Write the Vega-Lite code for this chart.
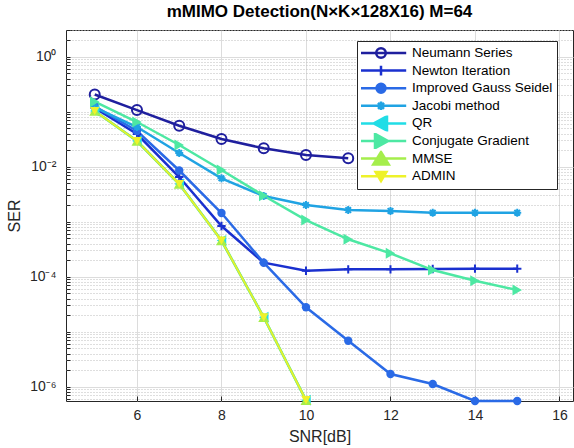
{
  "$schema": "https://vega.github.io/schema/vega-lite/v6.json",
  "width": 507,
  "height": 371,
  "autosize": {"type": "none"},
  "padding": {"left": 66, "top": 30, "right": 1, "bottom": 47},
  "background": "white",
  "title": {"text": "mMIMO Detection(N×K×128X16) M=64", "font": "Liberation Sans", "fontSize": 17, "fontWeight": "bold", "color": "#000000", "anchor": "middle", "offset": 2},
  "config": {
    "view": {"stroke": "#262626", "strokeWidth": 1},
    "axis": {"domain": false},
    "legend": {
      "orient": "none", "legendX": 291, "legendY": 11,
      "fillColor": "white", "strokeColor": "#262626", "padding": 4,
      "labelFont": "Liberation Sans", "labelFontSize": 13.5, "labelColor": "#000000", "labelLimit": 0,
      "symbolSize": 144, "symbolStrokeWidth": 2.5, "symbolOpacity": 1,
      "symbolOffset": 12.5, "labelOffset": 23.5,
      "clipHeight": 16, "rowPadding": 1.6, "gridAlign": "all"
    }
  },
  "data": {"values": [
    {"snr": 5, "ser": 0.2055, "series": "Neumann Series"},
    {"snr": 6, "ser": 0.107, "series": "Neumann Series"},
    {"snr": 7, "ser": 0.0556, "series": "Neumann Series"},
    {"snr": 8, "ser": 0.0319, "series": "Neumann Series"},
    {"snr": 9, "ser": 0.0216, "series": "Neumann Series"},
    {"snr": 10, "ser": 0.0163, "series": "Neumann Series"},
    {"snr": 11, "ser": 0.0142, "series": "Neumann Series"},
    {"snr": 5, "ser": 0.117, "series": "Newton Iteration"},
    {"snr": 6, "ser": 0.0393, "series": "Newton Iteration"},
    {"snr": 7, "ser": 0.0065, "series": "Newton Iteration"},
    {"snr": 8, "ser": 0.000835, "series": "Newton Iteration"},
    {"snr": 9, "ser": 0.00018, "series": "Newton Iteration"},
    {"snr": 10, "ser": 0.0001285, "series": "Newton Iteration"},
    {"snr": 11, "ser": 0.000136, "series": "Newton Iteration"},
    {"snr": 12, "ser": 0.000136, "series": "Newton Iteration"},
    {"snr": 13, "ser": 0.000138, "series": "Newton Iteration"},
    {"snr": 14, "ser": 0.00014, "series": "Newton Iteration"},
    {"snr": 15, "ser": 0.00014, "series": "Newton Iteration"},
    {"snr": 5, "ser": 0.125, "series": "Improved Gauss Seidel"},
    {"snr": 6, "ser": 0.0446, "series": "Improved Gauss Seidel"},
    {"snr": 7, "ser": 0.00853, "series": "Improved Gauss Seidel"},
    {"snr": 8, "ser": 0.00144, "series": "Improved Gauss Seidel"},
    {"snr": 9, "ser": 0.00018, "series": "Improved Gauss Seidel"},
    {"snr": 10, "ser": 0.0000278, "series": "Improved Gauss Seidel"},
    {"snr": 11, "ser": 0.00000686, "series": "Improved Gauss Seidel"},
    {"snr": 12, "ser": 0.0000017, "series": "Improved Gauss Seidel"},
    {"snr": 13, "ser": 0.00000112, "series": "Improved Gauss Seidel"},
    {"snr": 14, "ser": 0.00000055, "series": "Improved Gauss Seidel"},
    {"snr": 15, "ser": 0.00000055, "series": "Improved Gauss Seidel"},
    {"snr": 5, "ser": 0.12, "series": "Jacobi method"},
    {"snr": 6, "ser": 0.0527, "series": "Jacobi method"},
    {"snr": 7, "ser": 0.0178, "series": "Jacobi method"},
    {"snr": 8, "ser": 0.00615, "series": "Jacobi method"},
    {"snr": 9, "ser": 0.00293, "series": "Jacobi method"},
    {"snr": 10, "ser": 0.00201, "series": "Jacobi method"},
    {"snr": 11, "ser": 0.00163, "series": "Jacobi method"},
    {"snr": 12, "ser": 0.00157, "series": "Jacobi method"},
    {"snr": 13, "ser": 0.00146, "series": "Jacobi method"},
    {"snr": 14, "ser": 0.00146, "series": "Jacobi method"},
    {"snr": 15, "ser": 0.00146, "series": "Jacobi method"},
    {"snr": 5, "ser": 0.103, "series": "QR"},
    {"snr": 6, "ser": 0.0293, "series": "QR"},
    {"snr": 7, "ser": 0.00485, "series": "QR"},
    {"snr": 8, "ser": 0.000455, "series": "QR"},
    {"snr": 9, "ser": 0.0000183, "series": "QR"},
    {"snr": 10, "ser": 0.00000057, "series": "QR"},
    {"snr": 5, "ser": 0.152, "series": "Conjugate Gradient"},
    {"snr": 6, "ser": 0.065, "series": "Conjugate Gradient"},
    {"snr": 7, "ser": 0.0248, "series": "Conjugate Gradient"},
    {"snr": 8, "ser": 0.0087, "series": "Conjugate Gradient"},
    {"snr": 9, "ser": 0.00297, "series": "Conjugate Gradient"},
    {"snr": 10, "ser": 0.00107, "series": "Conjugate Gradient"},
    {"snr": 11, "ser": 0.000479, "series": "Conjugate Gradient"},
    {"snr": 12, "ser": 0.000266, "series": "Conjugate Gradient"},
    {"snr": 13, "ser": 0.000132, "series": "Conjugate Gradient"},
    {"snr": 14, "ser": 0.0000846, "series": "Conjugate Gradient"},
    {"snr": 15, "ser": 0.0000573, "series": "Conjugate Gradient"},
    {"snr": 5, "ser": 0.103, "series": "MMSE"},
    {"snr": 6, "ser": 0.0293, "series": "MMSE"},
    {"snr": 7, "ser": 0.00485, "series": "MMSE"},
    {"snr": 8, "ser": 0.000455, "series": "MMSE"},
    {"snr": 9, "ser": 0.0000183, "series": "MMSE"},
    {"snr": 10, "ser": 0.00000057, "series": "MMSE"},
    {"snr": 5, "ser": 0.103, "series": "ADMIN"},
    {"snr": 6, "ser": 0.0293, "series": "ADMIN"},
    {"snr": 7, "ser": 0.00485, "series": "ADMIN"},
    {"snr": 8, "ser": 0.000455, "series": "ADMIN"},
    {"snr": 9, "ser": 0.0000183, "series": "ADMIN"},
    {"snr": 10, "ser": 0.00000057, "series": "ADMIN"}
  ]},
  "encoding": {
    "x": {
      "field": "snr", "type": "quantitative",
      "scale": {"domain": [4.32, 16.32], "nice": false, "zero": false},
      "axis": {
        "values": [6, 8, 10, 12, 14, 16],
        "title": "SNR[dB]",
        "grid": true, "gridColor": "#dcdcdc", "gridWidth": 1,
        "tickSize": -5, "tickColor": "#262626",
        "labelPadding": 12,
        "labelFont": "Liberation Sans", "labelFontSize": 14, "labelColor": "#262626",
        "titleFont": "Liberation Sans", "titleFontSize": 16, "titleFontWeight": "normal", "titleColor": "#262626",
        "titlePadding": 6
      }
    },
    "y": {
      "field": "ser", "type": "quantitative",
      "scale": {"type": "log", "domain": [0.00000055, 3.06], "nice": false},
      "axis": {
        "values": [0.0000006, 0.0000007, 0.0000008, 0.0000009, 0.000001, 0.000002, 0.000003, 0.000004, 0.000005, 0.000006, 0.000007, 0.000008, 0.000009, 0.00001, 0.00002, 0.00003, 0.00004, 0.00005, 0.00006, 0.00007, 0.00008, 0.00009, 0.0001, 0.0002, 0.0003, 0.0004, 0.0005, 0.0006, 0.0007, 0.0008, 0.0009, 0.001, 0.002, 0.003, 0.004, 0.005, 0.006, 0.007, 0.008, 0.009, 0.01, 0.02, 0.03, 0.04, 0.05, 0.06, 0.07, 0.08, 0.09, 0.1, 0.2, 0.3, 0.4, 0.5, 0.6, 0.7, 0.8, 0.9, 1, 2, 3],
        "labelExpr": "datum.value === 1 ? '10⁰' : datum.value === 0.01 ? '10⁻²' : datum.value === 0.0001 ? '10⁻⁴' : datum.value === 0.000001 ? '10⁻⁶' : ''",
        "title": "SER",
        "grid": true,
        "gridDash": {"condition": {"test": "datum.value === 1 || datum.value === 0.01 || datum.value === 0.0001 || datum.value === 0.000001", "value": []}, "value": [1, 2]},
        "gridColor": {"condition": {"test": "datum.value === 1 || datum.value === 0.01 || datum.value === 0.0001 || datum.value === 0.000001", "value": "#dcdcdc"}, "value": "#bdbdbd"},
        "tickSize": -4, "tickColor": "#262626",
        "labelPadding": 14,
        "labelFont": "Liberation Sans", "labelFontSize": 14, "labelColor": "#262626",
        "labelOverlap": false,
        "titleFont": "Liberation Sans", "titleFontSize": 16, "titleFontWeight": "normal", "titleColor": "#262626",
        "titlePadding": 7
      }
    }
  },
  "layer": [
    {
      "transform": [{"filter": "datum.series !== 'ADMIN'"}],
      "mark": {"type": "line", "strokeWidth": 2.5},
      "encoding": {
        "color": {
          "field": "series", "type": "nominal",
          "scale": {"domain": ["ADMIN", "MMSE", "Conjugate Gradient", "QR", "Jacobi method", "Improved Gauss Seidel", "Newton Iteration", "Neumann Series"], "range": ["#eef22a", "#a5ee4c", "#4de8a3", "#21dde6", "#20a3e3", "#2a6ae6", "#1a30cf", "#1f1f9e"]},
          "legend": null
        }
      }
    },
    {
      "transform": [{"filter": "datum.series === 'ADMIN'"}],
      "mark": {"type": "line", "strokeWidth": 1.3},
      "encoding": {"color": {"field": "series", "type": "nominal", "legend": null}}
    },
    {
      "transform": [{"filter": "datum.series === 'Neumann Series'"}],
      "mark": {"type": "point", "shape": "circle", "size": 100, "filled": false, "strokeWidth": 2, "opacity": 1},
      "encoding": {"color": {"field": "series", "type": "nominal", "legend": null}}
    },
    {
      "transform": [{"filter": "datum.series === 'Newton Iteration'"}],
      "mark": {"type": "point", "shape": "M-1,0H1M0,-1V1", "size": 70, "filled": false, "strokeWidth": 2, "opacity": 1},
      "encoding": {"color": {"field": "series", "type": "nominal", "legend": null}}
    },
    {
      "transform": [{"filter": "datum.series === 'Improved Gauss Seidel'"}],
      "mark": {"type": "point", "shape": "circle", "size": 70, "filled": true, "opacity": 1},
      "encoding": {"color": {"field": "series", "type": "nominal", "legend": null}}
    },
    {
      "transform": [{"filter": "datum.series === 'Jacobi method'"}],
      "mark": {"type": "point", "shape": "M-1,0H1M0,-1V1M-0.7,-0.7L0.7,0.7M-0.7,0.7L0.7,-0.7", "size": 64, "filled": false, "strokeWidth": 2, "opacity": 1},
      "encoding": {"color": {"field": "series", "type": "nominal", "legend": null}}
    },
    {
      "transform": [{"filter": "datum.series === 'QR'"}],
      "mark": {"type": "point", "shape": "triangle-left", "size": 120, "filled": true, "opacity": 1},
      "encoding": {"color": {"field": "series", "type": "nominal", "legend": null}}
    },
    {
      "transform": [{"filter": "datum.series === 'Conjugate Gradient'"}],
      "mark": {"type": "point", "shape": "triangle-right", "size": 120, "filled": true, "opacity": 1},
      "encoding": {"color": {"field": "series", "type": "nominal", "legend": null}}
    },
    {
      "transform": [{"filter": "datum.series === 'MMSE'"}],
      "mark": {"type": "point", "shape": "triangle-up", "size": 120, "filled": true, "opacity": 1},
      "encoding": {"color": {"field": "series", "type": "nominal", "legend": null}}
    },
    {
      "transform": [{"filter": "datum.series === 'ADMIN'"}],
      "mark": {"type": "point", "shape": "triangle-down", "size": 90, "filled": true, "opacity": 1},
      "encoding": {"color": {"field": "series", "type": "nominal", "legend": null}}
    },
    {
      "transform": [{"filter": "datum.snr === 5"}],
      "mark": {"type": "point", "size": 144, "opacity": 0, "strokeWidth": 2.5},
      "encoding": {
        "stroke": {"field": "series", "type": "nominal", "scale": {"domain": ["Neumann Series", "Newton Iteration", "Improved Gauss Seidel", "Jacobi method", "QR", "Conjugate Gradient", "MMSE", "ADMIN"], "range": ["#1f1f9e", "#1a30cf", "#2a6ae6", "#20a3e3", "#21dde6", "#4de8a3", "#a5ee4c", "#eef22a"]}, "legend": {"title": null}},
        "fill": {"field": "series", "type": "nominal", "scale": {"domain": ["Neumann Series", "Newton Iteration", "Improved Gauss Seidel", "Jacobi method", "QR", "Conjugate Gradient", "MMSE", "ADMIN"], "range": ["transparent", "transparent", "#2a6ae6", "transparent", "#21dde6", "#4de8a3", "#a5ee4c", "#eef22a"]}, "legend": {"title": null}},
        "shape": {"field": "series", "type": "nominal", "scale": {"domain": ["Neumann Series", "Newton Iteration", "Improved Gauss Seidel", "Jacobi method", "QR", "Conjugate Gradient", "MMSE", "ADMIN"], "range": ["M-3.5,0H4.2M-0.8,0A0.8,0.8,0,1,0,0.8,0A0.8,0.8,0,1,0,-0.8,0Z", "M-3.5,0H4.2M0,-0.8V0.8", "M-3.5,0H4.2M-0.75,0A0.75,0.75,0,1,0,0.75,0A0.75,0.75,0,1,0,-0.75,0Z", "M-3.5,0H4.2M0,-0.7V0.7M-0.5,-0.5L0.5,0.5M-0.5,0.5L0.5,-0.5", "M-3.5,0H4.2M-1.2,0L1,-1.2L1,1.2Z", "M-3.5,0H4.2M1.2,0L-1,-1.2L-1,1.2Z", "M-3.5,0H4.2M0,-1.1L1.3,1L-1.3,1Z", "M-3.5,0H4.2M0,0.8L0.9,-0.7L-0.9,-0.7Z"]}, "legend": {"title": null}}
      }
    }
  ]
}
